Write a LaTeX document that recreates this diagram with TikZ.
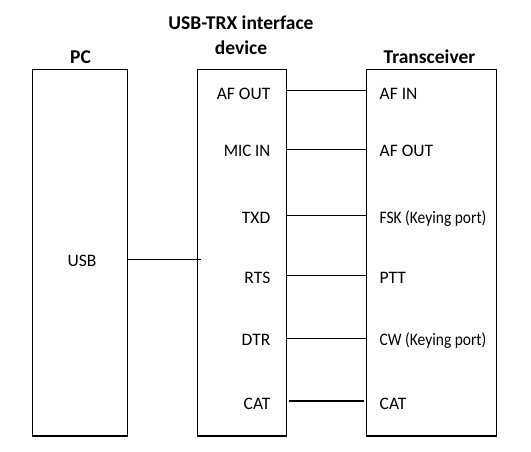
\documentclass[tikz,border=0pt]{standalone}
\usepackage{fontspec}
\usepackage{graphicx}
\setmainfont{Carlito}
\begin{document}
\begin{tikzpicture}[x=1pt,y=-1pt,
  box/.style={draw, line width=1.2pt, minimum width=#1, anchor=north west, inner sep=0pt, outer sep=0pt, minimum height=366.7pt},
  lbl/.style={inner sep=0pt, font=\fontsize{17.5}{20}\selectfont},
  ttl/.style={inner sep=0pt, anchor=base, font=\fontsize{19.5}{22}\selectfont\bfseries},
  wire/.style={line width=1pt},
  thick wire/.style={line width=2pt}]
\useasboundingbox (0,0) rectangle (531,451);
% boxes
\node[box=95pt] (pc) at (32.7,69.3) {};
\node[box=89pt] (dev) at (197.3,69.3) {};
\node[box=130pt] (trx) at (366.7,69.3) {};
% titles
\node[ttl] (tpc) at (80.5,63.7) {PC};
\node[ttl] (tdev1) at (241,29.8) {USB-TRX interface};
\node[ttl] (tdev2) at (241,54.9) {device};
\node[ttl] (ttrx) at (429.5,63.3) {Transceiver};
% row coordinates
\coordinate (r1) at (0,90);
\coordinate (r2) at (0,149);
\coordinate (r3) at (0,215.7);
\coordinate (r4) at (0,275.7);
\coordinate (r5) at (0,338);
\coordinate (r6) at (0,401);
% device labels
\node[lbl, anchor=base east] (d1) at (270.5,99) {AF OUT};
\node[lbl, anchor=base east] (d2) at (270.5,156.7) {\scalebox{0.96}[1]{MIC IN}};
\node[lbl, anchor=base east] (d3) at (270.5,223.3) {TXD};
\node[lbl, anchor=base east] (d4) at (270.5,283.3) {RTS};
\node[lbl, anchor=base east] (d5) at (270.5,345.3) {DTR};
\node[lbl, anchor=base east] (d6) at (270.5,409) {CAT};
% transceiver labels
\node[lbl, anchor=base west] (t1) at (379.5,99) {AF IN};
\node[lbl, anchor=base west] (t2) at (379.5,156.7) {AF OUT};
\node[lbl, anchor=base west] (t3) at (379.5,223.3) {\scalebox{0.885}[1]{FSK (Keying port)}};
\node[lbl, anchor=base west] (t4) at (379.5,283.3) {PTT};
\node[lbl, anchor=base west] (t5) at (379.5,345.3) {\scalebox{0.885}[1]{CW (Keying port)}};
\node[lbl, anchor=base west] (t6) at (379.5,409) {CAT};
% PC label
\node[lbl, anchor=base] (usb) at (82,266.7) {USB};
% connectors
\coordinate (usbend) at (200.7,259.3);
\draw[wire] (pc.east |- usbend) -- (usbend);
\draw[wire] (dev.east |- r1) -- (trx.west |- r1);
\draw[wire] (dev.east |- r2) -- (trx.west |- r2);
\draw[wire] (dev.east |- r3) -- (trx.west |- r3);
\draw[wire] (dev.east |- r4) -- (trx.west |- r4);
\draw[wire] (dev.east |- r5) -- (trx.west |- r5);
\draw[thick wire] ([xshift=2.3pt]dev.east |- r6) -- ([xshift=-2.3pt]trx.west |- r6);
\end{tikzpicture}
\end{document}
